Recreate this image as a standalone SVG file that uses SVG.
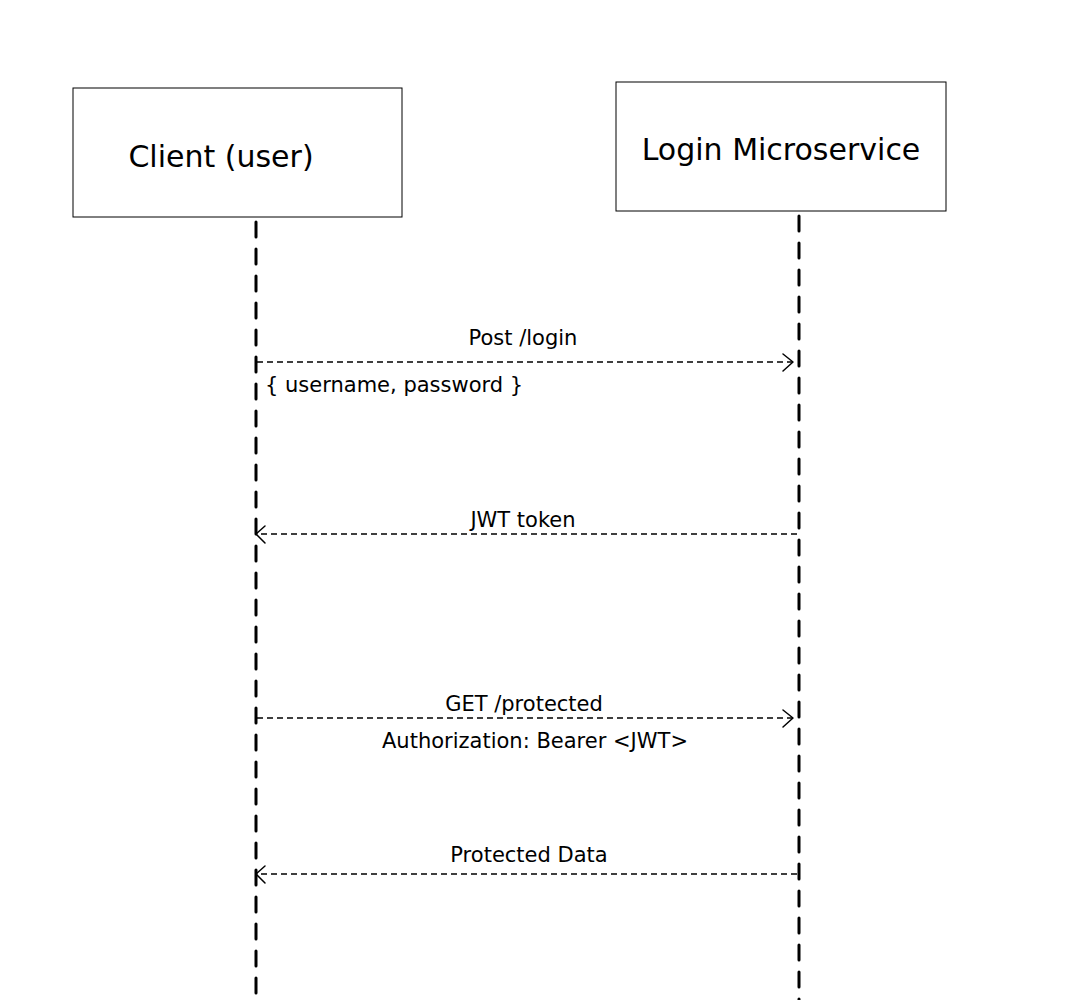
<svg xmlns="http://www.w3.org/2000/svg" width="1086" height="1000" viewBox="0 0 1086 1000">
<defs>
<style>
.box{fill:#fff;stroke:#000;stroke-width:1}
.life{stroke:#000;stroke-width:3;stroke-dasharray:15 12;stroke-linecap:round;fill:none}
.msg{stroke:#000;stroke-width:1.5;stroke-dasharray:6 4;fill:none}
.head{stroke:#000;stroke-width:1.5;fill:none;stroke-linecap:round;stroke-linejoin:round}
.t{font-family:"DejaVu Sans","Liberation Sans",sans-serif;fill:#000}
.big{font-size:30px}
.sm{font-size:21px}
</style>
</defs>
<rect width="1086" height="1000" fill="#fff"/>
<g id="client">
<rect class="box" x="73" y="88" width="329" height="129"/>
<text class="t big" x="221" y="167" text-anchor="middle">Client (user)</text>
</g>
<g id="login">
<rect class="box" x="616" y="82" width="330" height="129"/>
<text class="t big" x="781" y="160" text-anchor="middle">Login Microservice</text>
</g>
<g id="connectors">
<line class="life" x1="256" y1="222" x2="256" y2="1000"/>
<line class="life" x1="799" y1="216" x2="799" y2="1000"/>
<line class="msg" x1="257" y1="362" x2="793" y2="362"/>
<path class="head" d="M783 354 L793 362 L783 371"/>
<line class="msg" x1="797" y1="534" x2="256" y2="534"/>
<path class="head" d="M265 526 L256 534 L265 543"/>
<line class="msg" x1="257" y1="718" x2="793" y2="718"/>
<path class="head" d="M783 710 L793 718 L783 727"/>
<line class="msg" x1="797" y1="874" x2="256" y2="874"/>
<path class="head" d="M265 866 L256 874 L265 883"/>
</g>
<g id="labels">
<text class="t sm" x="523" y="345" text-anchor="middle">Post /login</text>
<text class="t sm" x="265" y="392">{ username, password }</text>
<text class="t sm" x="523" y="527" text-anchor="middle">JWT token</text>
<text class="t sm" x="524" y="711" text-anchor="middle">GET /protected</text>
<text class="t sm" x="535" y="748" text-anchor="middle">Authorization: Bearer &lt;JWT&gt;</text>
<text class="t sm" x="529" y="862" text-anchor="middle">Protected Data</text>
</g>
</svg>
